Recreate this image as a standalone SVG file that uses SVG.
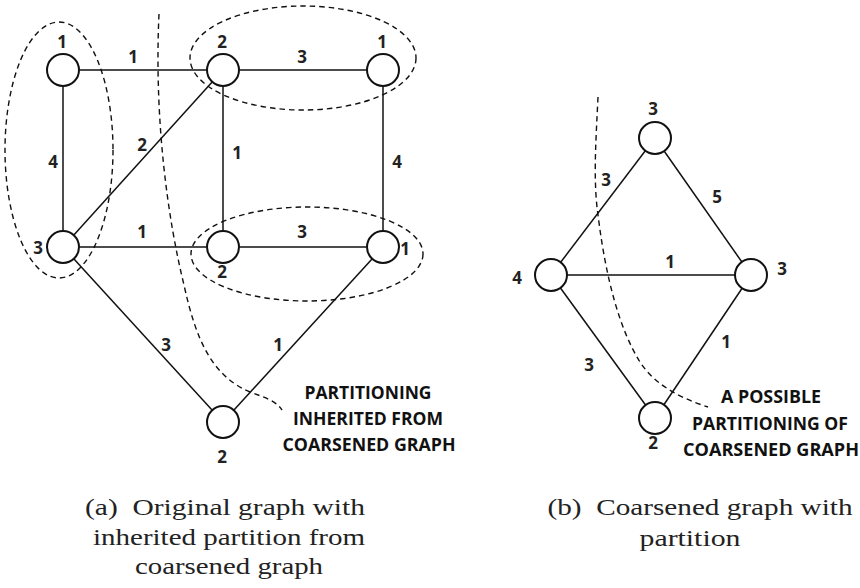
<svg xmlns="http://www.w3.org/2000/svg" width="860" height="588" viewBox="0 0 860 588">
<style>
.edge{stroke:#111;stroke-width:1.5;fill:none}
.node{fill:#fff;stroke:#111;stroke-width:2}
.dash{fill:none;stroke:#111;stroke-width:1.4;stroke-dasharray:5.5,4}
.lbl{font-family:"Open Sans","Liberation Sans",sans-serif;font-weight:bold;font-size:17px;fill:#222;text-anchor:middle}
.note{font-family:"Open Sans","Liberation Sans",sans-serif;font-weight:bold;font-size:18px;fill:#111;text-anchor:middle}
.cap{font-family:"Liberation Serif","DejaVu Serif",serif;font-size:24px;fill:#222;text-anchor:middle;white-space:pre}
</style>
<rect width="860" height="588" fill="#fff"/>
<g id="connectors">
<line class="edge" x1="63" y1="70" x2="223" y2="70"/>
<line class="edge" x1="223" y1="70" x2="383" y2="70"/>
<line class="edge" x1="63" y1="70" x2="63" y2="247"/>
<line class="edge" x1="223" y1="70" x2="223" y2="247"/>
<line class="edge" x1="383" y1="70" x2="383" y2="247"/>
<line class="edge" x1="223" y1="70" x2="63" y2="247"/>
<line class="edge" x1="63" y1="247" x2="223" y2="247"/>
<line class="edge" x1="223" y1="247" x2="383" y2="247"/>
<line class="edge" x1="63" y1="247" x2="223" y2="422"/>
<line class="edge" x1="383" y1="247" x2="223" y2="422"/>
<line class="edge" x1="655" y1="138" x2="551" y2="275"/>
<line class="edge" x1="655" y1="138" x2="751" y2="275"/>
<line class="edge" x1="551" y1="275" x2="751" y2="275"/>
<line class="edge" x1="551" y1="275" x2="655" y2="418"/>
<line class="edge" x1="751" y1="275" x2="655" y2="418"/>
</g>
<g id="partitions">
<ellipse class="dash" cx="59" cy="150" rx="54" ry="128"/>
<ellipse class="dash" cx="303" cy="58" rx="113" ry="52"/>
<ellipse class="dash" cx="307" cy="254" rx="116" ry="47"/>
<path class="dash" d="M159,14 C154,120 168,220 184,285 C196,340 212,376 250,392 C266,398 276,401 282,410"/>
<path class="dash" d="M598,97 C596,140 593,180 598,215 C606,280 620,330 640,362 C655,385 680,398 708,407"/>
</g>
<g id="n1"><circle class="node" cx="63" cy="70" r="16"/><text class="lbl" x="62" y="48">1</text></g>
<g id="n2"><circle class="node" cx="223" cy="70" r="16"/><text class="lbl" x="222" y="48">2</text></g>
<g id="n3"><circle class="node" cx="383" cy="70" r="16"/><text class="lbl" x="382" y="48">1</text></g>
<g id="n4"><circle class="node" cx="63" cy="247" r="16"/><text class="lbl" x="38" y="254">3</text></g>
<g id="n5"><circle class="node" cx="223" cy="247" r="16"/><text class="lbl" x="222" y="278">2</text></g>
<g id="n6"><circle class="node" cx="383" cy="247" r="16"/><text class="lbl" x="405" y="255">1</text></g>
<g id="n7"><circle class="node" cx="223" cy="422" r="16"/><text class="lbl" x="222" y="463">2</text></g>
<g id="m1"><circle class="node" cx="655" cy="138" r="16"/><text class="lbl" x="653" y="115">3</text></g>
<g id="m2"><circle class="node" cx="551" cy="275" r="16"/><text class="lbl" x="517" y="284">4</text></g>
<g id="m3"><circle class="node" cx="751" cy="275" r="16"/><text class="lbl" x="782" y="275">3</text></g>
<g id="m4"><circle class="node" cx="655" cy="418" r="16"/><text class="lbl" x="653" y="449">2</text></g>
<g id="edge-labels">
<text class="lbl" x="133" y="63">1</text>
<text class="lbl" x="302" y="63">3</text>
<text class="lbl" x="53" y="168">4</text>
<text class="lbl" x="142" y="151">2</text>
<text class="lbl" x="237" y="159">1</text>
<text class="lbl" x="397" y="168">4</text>
<text class="lbl" x="142" y="238">1</text>
<text class="lbl" x="302" y="238">3</text>
<text class="lbl" x="166" y="351">3</text>
<text class="lbl" x="278" y="351">1</text>
<text class="lbl" x="606" y="186">3</text>
<text class="lbl" x="717" y="203">5</text>
<text class="lbl" x="670" y="268">1</text>
<text class="lbl" x="589" y="371">3</text>
<text class="lbl" x="726" y="348">1</text>
</g>
<g id="notes">
<text class="note" x="368" y="399" textLength="127" lengthAdjust="spacingAndGlyphs">PARTITIONING</text>
<text class="note" x="368" y="425" textLength="150" lengthAdjust="spacingAndGlyphs">INHERITED FROM</text>
<text class="note" x="369" y="451" textLength="173" lengthAdjust="spacingAndGlyphs">COARSENED GRAPH</text>
<text class="note" x="771" y="403" textLength="100" lengthAdjust="spacingAndGlyphs">A POSSIBLE</text>
<text class="note" x="770" y="430" textLength="156" lengthAdjust="spacingAndGlyphs">PARTITIONING OF</text>
<text class="note" x="771" y="456" textLength="176" lengthAdjust="spacingAndGlyphs">COARSENED GRAPH</text>
</g>
<g id="captions">
<text class="cap" x="225" y="515" textLength="280" lengthAdjust="spacingAndGlyphs" xml:space="preserve">(a)  Original graph with</text>
<text class="cap" x="229" y="545" textLength="272" lengthAdjust="spacingAndGlyphs">inherited partition from</text>
<text class="cap" x="229" y="574" textLength="188" lengthAdjust="spacingAndGlyphs">coarsened graph</text>
<text class="cap" x="700" y="515" textLength="305" lengthAdjust="spacingAndGlyphs" xml:space="preserve">(b)  Coarsened graph with</text>
<text class="cap" x="690" y="546" textLength="101" lengthAdjust="spacingAndGlyphs">partition</text>
</g>
</svg>
